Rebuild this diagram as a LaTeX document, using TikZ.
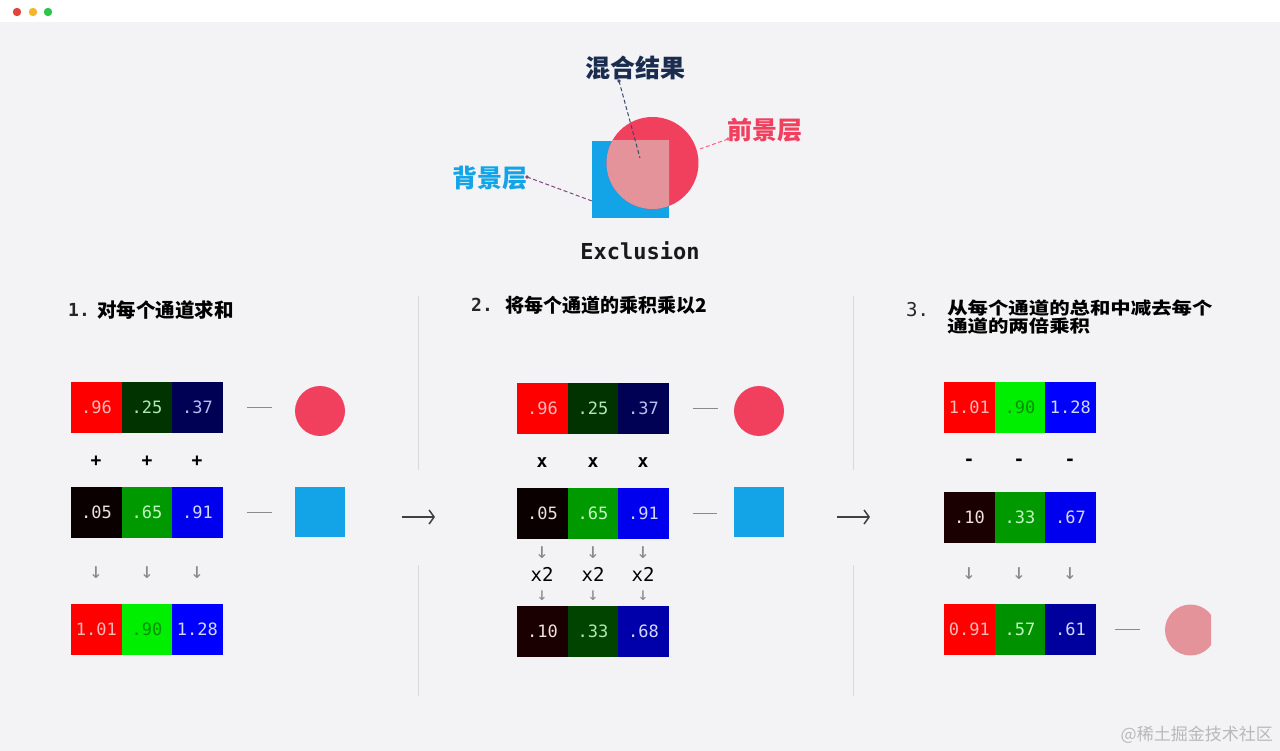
\documentclass[tikz,border=0pt]{standalone}
\usepackage{fontspec}
\usetikzlibrary{arrows.meta}
\setmainfont{DejaVu Sans}
\newfontfamily\cjk{Noto Sans CJK SC}
\newfontfamily\mono{DejaVu Sans Mono}
\newcommand\fs[1]{\fontsize{#1}{#1}\selectfont}
\definecolor{bgc}{HTML}{F3F3F5}
\definecolor{dotr}{HTML}{E0443A}
\definecolor{doty}{HTML}{F2B72E}
\definecolor{dotg}{HTML}{2DC54A}
\definecolor{fgred}{HTML}{F0405E}
\definecolor{bgblue}{HTML}{12A4E6}
\definecolor{mixpink}{HTML}{E4939B}
\definecolor{navyt}{HTML}{1B2D4F}
\definecolor{divc}{HTML}{D9D9DD}
\definecolor{arrg}{HTML}{8A8A8A}
% cell colours
\definecolor{cR}{HTML}{FF0000}
\definecolor{cDG}{HTML}{003300}
\definecolor{cNV}{HTML}{000055}
\definecolor{cBK}{HTML}{0A0000}
\definecolor{cG}{HTML}{009900}
\definecolor{cB}{HTML}{0000EE}
\definecolor{cBG}{HTML}{00EE00}
\definecolor{cBB}{HTML}{0000FF}
\definecolor{cDR}{HTML}{1A0000}
\definecolor{cDG2}{HTML}{004400}
\definecolor{cDB}{HTML}{0000AA}
\definecolor{cG3}{HTML}{009100}
\definecolor{cDB3}{HTML}{00009C}
% text colours
\definecolor{tR}{HTML}{FFB8B8}
\definecolor{tDG}{HTML}{B0E8B0}
\definecolor{tNV}{HTML}{B8C0F0}
\definecolor{tBK}{HTML}{F0E0E0}
\definecolor{tG}{HTML}{C0F8C0}
\definecolor{tB}{HTML}{D0D8FF}
\definecolor{tBG}{HTML}{009000}
\newcommand\cellnode[6]{\node[cell,fill=#4,text=#5] (#1) at (#2,#3) {#6};}
\begin{document}
\begin{tikzpicture}[x=1pt,y=-1pt,
  cell/.style={anchor=north west,minimum width=50.5pt,minimum height=51pt,inner sep=0pt,font=\mono\fs{17}},
  optext/.style={font=\mono\bfseries\fs{18},text=black},
  downarr/.style={font=\mono\fs{22},text=arrg,inner sep=0pt},
  dashline/.style={draw=arrg,line width=1.1pt},
  divline/.style={draw=divc,line width=1pt},
  title/.style={anchor=west,font=\cjk\bfseries\fs{19.5},text=black,inner sep=0pt},
  numt/.style={anchor=west,font=\mono\bfseries\fs{18},text=black!85,inner sep=0pt},
  bigarrow/.style={draw=black!75,line width=1.5pt,-{Straight Barb[length=5pt,width=14pt,line width=1.5pt]}},
  lbl/.style={font=\cjk\bfseries\fs{25},inner sep=0pt},
  leader/.style={dashed,dash pattern=on 4pt off 2.5pt,line width=1pt}]
\useasboundingbox (0,0) rectangle (1280,751);
\fill[bgc] (0,0) rectangle (1280,751);
\fill[white] (0,0) rectangle (1280,22);
\fill[dotr] (17,12) circle (4.2);
\fill[doty] (33,12) circle (4.2);
\fill[dotg] (48,12) circle (4.2);

% ---- top illustration
\node[fill=bgblue,minimum size=77pt,inner sep=0pt,anchor=north west] (bgsq) at (592,141) {};
\node[fill=fgred,circle,minimum size=92pt,inner sep=0pt] (fgc) at (652.5,163) {};
\begin{scope}
\clip (592,141) rectangle (669,218);
\fill[mixpink] (652.5,163) circle (46);
\end{scope}
\node[lbl,text=navyt] (mix) at (635,68) {混合结果};
\node[lbl,text=fgred] (fglbl) at (765,130) {前景层};
\node[lbl,text=bgblue] (bglbl) at (490,178) {背景层};
\coordinate (mixend) at (640,158);
\coordinate (fgend) at (700,149);
\coordinate (bgend) at (592,201);
\coordinate (mixst) at (619,81);
\coordinate (fgst) at (728,139);
\coordinate (bgst) at (527,177);
\draw[leader,draw=navyt!85] (mixst) -- (mixend);
\fill[navyt!85] (mixst) circle (1.8);
\draw[leader,draw=fgred!80] (fgst) -- (fgend);
\fill[fgred!80] (fgst) circle (1.8);
\draw[leader,draw=violet!45!gray] (bgst) -- (bgend);
\fill[violet!45!gray] (bgst) circle (1.8);
\node[font=\mono\bfseries\fs{22},text=black!90] (excl) at (640,251) {Exclusion};

% ---- dividers and big arrows
\coordinate (ar1s) at (402,517);
\coordinate (ar1e) at (435,517);
\coordinate (ar2s) at (837,517);
\coordinate (ar2e) at (870,517);
\draw[bigarrow] (ar1s) -- (ar1e);
\draw[bigarrow] (ar2s) -- (ar2e);
\draw[divline] (418,296) -- (418,470);
\draw[divline] (418,565) -- (418,696);
\draw[divline] (853,296) -- (853,470);
\draw[divline] (853,565) -- (853,696);

% ---- section 1
\node[numt] (n1) at (68,310) {1.};
\node[title] (t1) at (97,310) {对每个通道求和};
\cellnode{a11}{71}{382}{cR}{tR}{.96}
\cellnode{a12}{121.5}{382}{cDG}{tDG}{.25}
\cellnode{a13}{172}{382}{cNV}{tNV}{.37}
\cellnode{a21}{71}{487}{cBK}{tBK}{.05}
\cellnode{a22}{121.5}{487}{cG}{tG}{.65}
\cellnode{a23}{172}{487}{cB}{tB}{.91}
\cellnode{a31}{71}{604}{cR}{tR}{1.01}
\cellnode{a32}{121.5}{604}{cBG}{tBG}{.90}
\cellnode{a33}{172}{604}{cBB}{tB}{1.28}
\node[optext] (ap1) at (96,461) {+};
\node[optext] (ap2) at (147,461) {+};
\node[optext] (ap3) at (197,461) {+};
\node[downarr] (ad1) at (96,573) {↓};
\node[downarr] (ad2) at (147,573) {↓};
\node[downarr] (ad3) at (197,573) {↓};
\node[circle,fill=fgred,minimum size=50pt,inner sep=0pt] (acirc) at (320,411) {};
\node[fill=bgblue,minimum size=50pt,inner sep=0pt] (asq) at (320,512) {};
\draw[dashline,shorten <=24pt,shorten >=23pt] (a13.east) -- (a13.east -| acirc.west);
\draw[dashline,shorten <=24pt,shorten >=23pt] (a23.east) -- (a23.east -| asq.west);

% ---- section 2
\node[numt] (n2) at (471,305) {2.};
\node[title,font=\cjk\bfseries\fs{19}] (t2) at (505,305) {将每个通道的乘积乘以2};
\cellnode{b11}{517}{383}{cR}{tR}{.96}
\cellnode{b12}{567.5}{383}{cDG}{tDG}{.25}
\cellnode{b13}{618}{383}{cNV}{tNV}{.37}
\cellnode{b21}{517}{488}{cBK}{tBK}{.05}
\cellnode{b22}{567.5}{488}{cG}{tG}{.65}
\cellnode{b23}{618}{488}{cB}{tB}{.91}
\cellnode{b31}{517}{606}{cDR}{tBK}{.10}
\cellnode{b32}{567.5}{606}{cDG2}{tDG}{.33}
\cellnode{b33}{618}{606}{cDB}{tB}{.68}
\node[optext] (bx1) at (542,463) {x};
\node[optext] (bx2) at (593,463) {x};
\node[optext] (bx3) at (643,463) {x};
\node[downarr] (bd1) at (542,553) {↓};
\node[downarr] (bd2) at (593,553) {↓};
\node[downarr] (bd3) at (643,553) {↓};
\node[font=\mono\fs{19}] (bm1) at (542,574) {x2};
\node[font=\mono\fs{19}] (bm2) at (593,574) {x2};
\node[font=\mono\fs{19}] (bm3) at (643,574) {x2};
\node[downarr,font=\mono\fs{18}] (be1) at (542,596) {↓};
\node[downarr,font=\mono\fs{18}] (be2) at (593,596) {↓};
\node[downarr,font=\mono\fs{18}] (be3) at (643,596) {↓};
\node[circle,fill=fgred,minimum size=50pt,inner sep=0pt] (bcirc) at (759,411) {};
\node[fill=bgblue,minimum size=50pt,inner sep=0pt] (bsq) at (758.5,512) {};
\draw[dashline,shorten <=24pt,shorten >=16pt] (b13.east) -- (b13.east -| bcirc.west);
\draw[dashline,shorten <=24pt,shorten >=16pt] (b23.east) -- (b23.east -| bsq.west);

% ---- section 3
\node[numt,font=\mono\fs{19}] (n3) at (906,310) {3.};
\node[title,font=\cjk\bfseries\fs{17},xscale=1.2,transform shape] (t3a) at (947,308.5) {从每个通道的总和中减去每个};
\node[title,font=\cjk\bfseries\fs{17},xscale=1.2,transform shape] (t3b) at (947,326) {通道的两倍乘积};
\cellnode{c11}{944}{382}{cR}{tR}{1.01}
\cellnode{c12}{994.5}{382}{cBG}{tBG}{.90}
\cellnode{c13}{1045}{382}{cBB}{tB}{1.28}
\cellnode{c21}{944}{492}{cDR}{tBK}{.10}
\cellnode{c22}{994.5}{492}{cG}{tG}{.33}
\cellnode{c23}{1045}{492}{cB}{tB}{.67}
\cellnode{c31}{944}{604}{cR}{tR}{0.91}
\cellnode{c32}{994.5}{604}{cG3}{tG}{.57}
\cellnode{c33}{1045}{604}{cDB3}{tB}{.61}
\node[optext] (cm1) at (969,462) {-};
\node[optext] (cm2) at (1019,462) {-};
\node[optext] (cm3) at (1070,462) {-};
\node[downarr] (cd1) at (969,574) {↓};
\node[downarr] (cd2) at (1019,574) {↓};
\node[downarr] (cd3) at (1070,574) {↓};
\begin{scope}
\clip (1150,590) rectangle (1211,670);
\node[circle,fill=mixpink,minimum size=51pt,inner sep=0pt] (ccirc) at (1190.5,630) {};
\end{scope}
\draw[dashline,shorten <=19pt,shorten >=25pt] (c33.east) -- (c33.east -| ccirc.west);

% ---- watermark
\node[anchor=east,font=\cjk\fs{17},text=black!28,inner sep=0pt] (wm) at (1273,735) {@稀土掘金技术社区};
\end{tikzpicture}
\end{document}
